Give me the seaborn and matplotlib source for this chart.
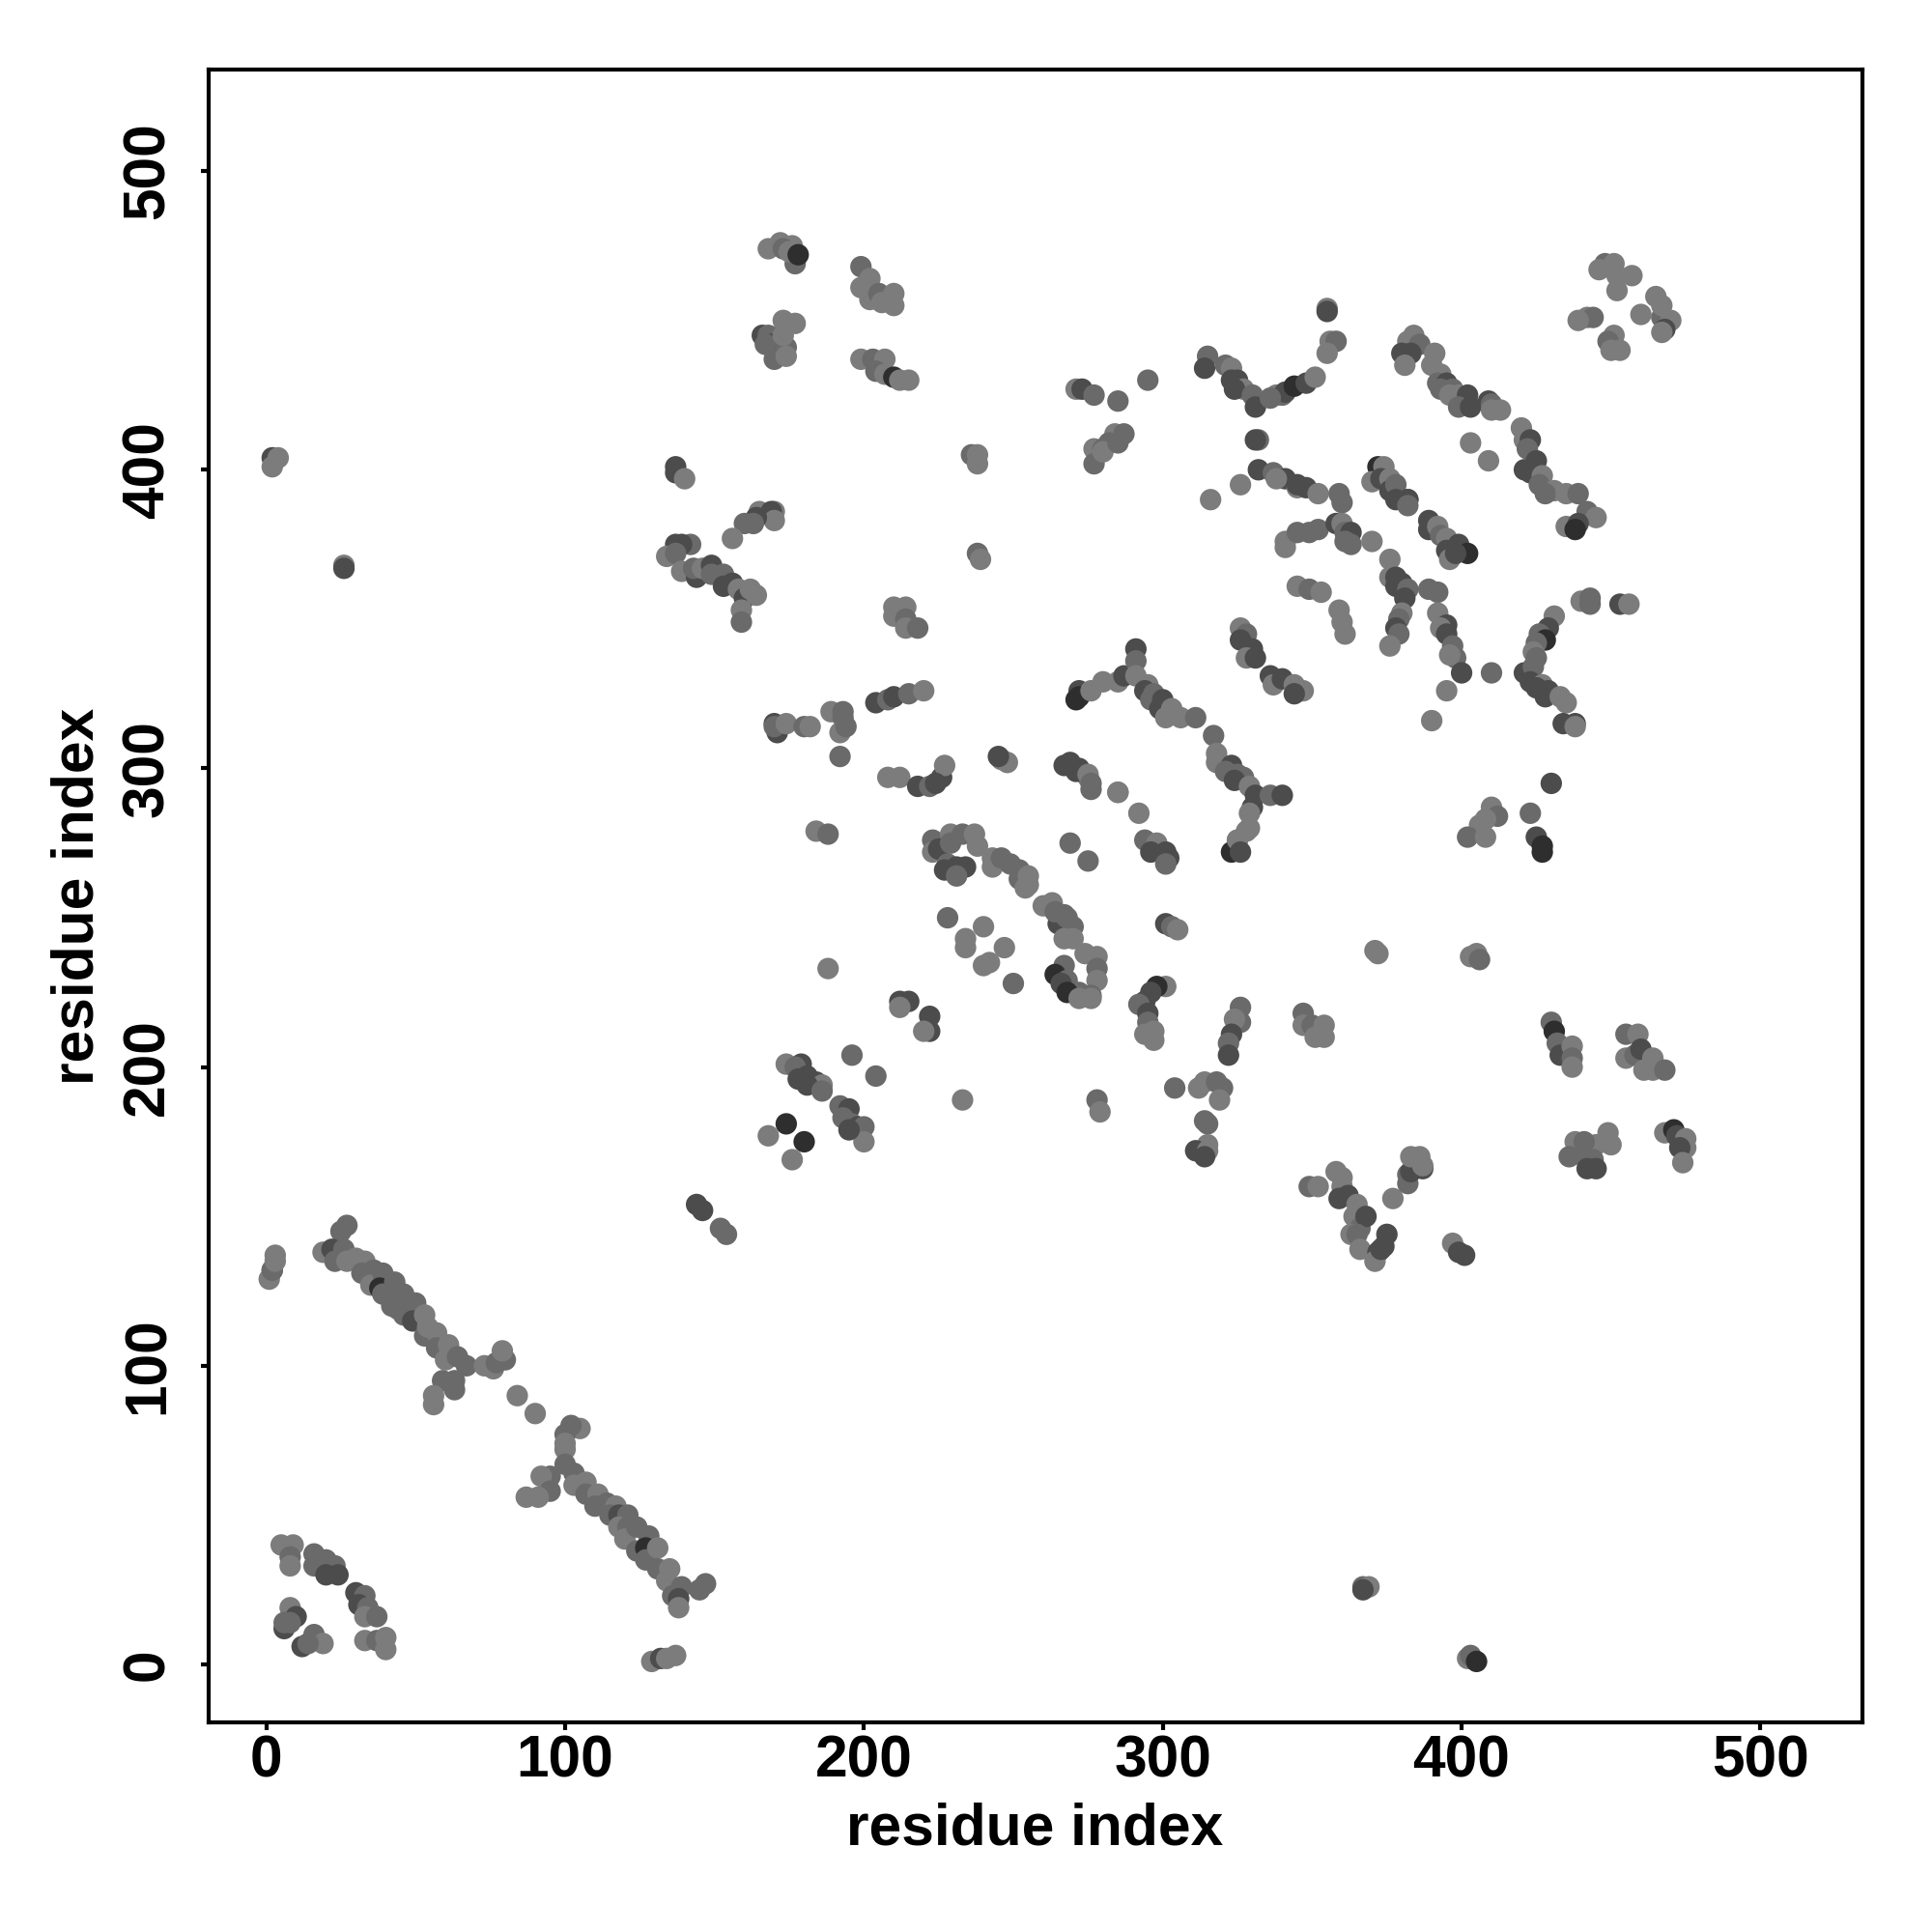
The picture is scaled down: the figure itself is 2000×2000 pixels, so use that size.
#!/usr/bin/env python3
# contact map, residue index vs residue index
import pandas as pd
import seaborn as sns
import matplotlib
matplotlib.use('Agg')
import matplotlib.pyplot as plt

# level = darkness of the contact, 1 (light) to 4 (very dark)
LEVELS = [1, 2, 3, 4]
GREYS = ['#7c7c7c', '#6a6a6a', '#4c4c4c', '#2e2e2e']
TICKS = [0, 100, 200, 300, 400, 500]
AXIS_LABEL = 'residue index'

# lower left, first long helix pair and its branches
x_helix1 = [2, 1, 2, 3, 3, 25, 27, 19, 22, 23, 26, 27, 30, 33, 32, 36, 35, 39, 38, 39, 43, 42, 44, 46, 46, 50, 49, 53, 53, 54, 57, 57, 61, 60, 64, 67, 73, 76, 77, 80, 79, 63, 59, 63, 56, 56, 84, 90]
y_helix1 = [132, 129, 132, 135, 137, 145, 147, 138, 139, 135, 139, 135, 136, 135, 131, 132, 127, 131, 126, 124, 128, 120, 119, 124, 117, 121, 115, 117, 110, 113, 111, 106, 107, 102, 103, 100, 100, 99, 101, 102, 105, 95, 95, 92, 90, 87, 90, 84]
l_helix1 = [3, 1, 2, 1, 1, 2, 2, 1, 3, 2, 2, 1, 1, 1, 2, 2, 1, 2, 4, 2, 2, 2, 2, 2, 2, 2, 3, 1, 2, 1, 1, 2, 1, 1, 2, 2, 1, 1, 2, 2, 1, 2, 2, 2, 1, 1, 1, 1]

# second helix pair
x_helix2 = [105, 102, 100, 100, 100, 100, 103, 95, 92, 95, 91, 87, 103, 107, 107, 111, 110, 114, 117, 115, 118, 121, 118, 121, 120, 124, 128, 124, 127, 127, 131, 131, 135, 134, 136, 139, 138, 138, 145, 147, 129, 132, 134, 137]
y_helix2 = [79, 80, 77, 74, 72, 67, 64, 63, 63, 58, 56, 56, 60, 61, 57, 57, 53, 54, 53, 50, 50, 50, 46, 46, 42, 46, 43, 38, 39, 35, 39, 32, 32, 28, 23, 26, 22, 19, 25, 27, 1, 2, 2, 3]
l_helix2 = [1, 2, 2, 1, 1, 2, 2, 2, 1, 2, 1, 1, 1, 1, 2, 1, 2, 2, 1, 2, 3, 2, 1, 2, 1, 2, 2, 2, 4, 2, 1, 2, 1, 1, 2, 2, 3, 1, 2, 2, 1, 3, 1, 1]

# small groups near the origin
x_corner = [5, 9, 8, 8, 16, 16, 20, 23, 20, 24, 30, 33, 31, 34, 33, 37, 8, 10, 6, 6, 8, 12, 16, 19, 14, 33, 37, 40, 40]
y_corner = [40, 40, 36, 33, 37, 33, 35, 33, 30, 30, 24, 23, 20, 19, 16, 16, 19, 16, 12, 14, 14, 6, 10, 7, 7, 8, 8, 9, 5]
l_corner = [1, 1, 2, 1, 2, 2, 2, 2, 3, 3, 3, 2, 3, 2, 1, 2, 1, 3, 3, 2, 2, 3, 2, 1, 2, 1, 2, 1, 1]

# isolated contacts along the edges
x_edge = [144, 146, 152, 154, 2, 2, 4, 26, 26, 367, 369, 367, 402, 403, 405]
y_edge = [154, 152, 146, 144, 404, 401, 404, 368, 367, 26, 26, 25, 2, 3, 1]
l_edge = [3, 3, 2, 2, 3, 1, 1, 1, 3, 2, 1, 3, 1, 2, 4]

# top left groups
x_top = [168, 172, 176, 173, 177, 175, 178, 199, 202, 199, 202, 205, 206, 210, 210, 173, 177, 166, 168, 169, 167, 174, 173, 170, 174, 199, 203, 207, 204, 207, 210, 215, 212]
y_top = [474, 476, 475, 474, 469, 473, 472, 468, 464, 461, 457, 459, 456, 459, 455, 450, 449, 445, 445, 442, 442, 441, 445, 437, 438, 437, 437, 437, 433, 432, 431, 430, 430]
l_top = [1, 1, 1, 2, 2, 1, 4, 2, 1, 1, 1, 2, 1, 1, 1, 1, 1, 3, 2, 3, 2, 2, 1, 2, 1, 1, 2, 1, 2, 1, 4, 1, 1]

# left middle, around residue 150 / 370
x_left = [137, 137, 140, 165, 170, 169, 170, 164, 160, 163, 156, 137, 142, 139, 134, 137, 139, 144, 143, 146, 149, 149, 153, 153, 156, 158, 160, 162, 164, 159, 159, 210, 214, 210, 214, 214, 218]
y_left = [401, 399, 397, 386, 386, 386, 383, 384, 382, 382, 377, 375, 375, 375, 371, 372, 366, 364, 367, 367, 368, 365, 365, 361, 362, 360, 357, 360, 358, 353, 349, 354, 354, 351, 350, 347, 347]
l_left = [3, 3, 1, 1, 1, 3, 1, 3, 2, 2, 1, 3, 2, 3, 1, 2, 1, 3, 2, 1, 3, 2, 2, 3, 3, 1, 3, 1, 1, 1, 2, 1, 1, 1, 2, 1, 2]

# top middle singles
x_mid = [271, 273, 277, 285, 295, 277, 280, 277, 284, 287, 282, 280, 285, 236, 238, 238, 238, 239]
y_mid = [427, 427, 425, 423, 430, 407, 407, 402, 412, 412, 409, 406, 409, 405, 405, 402, 372, 370]
l_mid = [1, 3, 2, 2, 2, 1, 2, 2, 1, 2, 2, 1, 2, 2, 1, 1, 2, 1]

# band around y = 300 to 330
x_band = [170, 171, 170, 174, 180, 182, 189, 193, 193, 192, 194, 192, 204, 208, 210, 215, 220, 208, 212, 218, 222, 226, 227, 224, 246, 248, 245, 269, 272, 267, 275, 276, 285]
y_band = [315, 312, 314, 315, 314, 314, 319, 319, 317, 312, 314, 304, 322, 323, 324, 325, 326, 297, 297, 294, 294, 297, 301, 295, 303, 302, 304, 301, 300, 301, 297, 293, 292]
l_band = [3, 3, 2, 1, 2, 1, 1, 2, 2, 1, 2, 2, 3, 2, 3, 2, 1, 1, 1, 3, 2, 3, 1, 3, 1, 1, 3, 3, 3, 3, 1, 2, 1]

# helices in the centre, residue 270 to 340
x_centre = [272, 271, 272, 276, 280, 285, 287, 291, 291, 291, 295, 294, 297, 296, 300, 299, 303, 301, 306, 311, 317, 318, 318, 323, 321, 325, 327, 324, 329, 331, 330, 329, 336, 340, 329, 325, 323, 325, 326, 328, 269, 271, 275, 276, 285, 292]
y_centre = [326, 323, 324, 326, 329, 329, 331, 340, 336, 331, 328, 326, 325, 323, 323, 320, 320, 317, 317, 317, 311, 305, 302, 301, 299, 298, 297, 296, 294, 291, 287, 285, 291, 291, 280, 276, 272, 276, 272, 279, 302, 299, 298, 295, 292, 285]
l_centre = [3, 4, 4, 1, 1, 1, 3, 3, 2, 1, 1, 3, 2, 2, 3, 3, 1, 1, 1, 2, 2, 1, 1, 3, 2, 2, 2, 3, 1, 3, 3, 1, 2, 3, 1, 1, 4, 1, 3, 1, 3, 3, 1, 2, 1, 1]

# upper right, residue 310 to 410 along y = 340 to 440
x_upper = [315, 314, 321, 323, 323, 325, 327, 324, 330, 331, 338, 340, 341, 344, 348, 351, 336, 355, 355, 356, 358, 355, 332, 331, 332, 337, 341, 345, 345, 348, 352, 338, 326, 316, 359, 360, 372, 374, 370, 373, 376, 376, 378, 378, 382, 382, 382, 389, 389, 392, 393, 395, 395, 399, 396, 402, 398]
y_upper = [438, 434, 435, 434, 430, 430, 427, 427, 425, 421, 425, 425, 426, 428, 429, 431, 424, 454, 453, 443, 443, 439, 410, 410, 400, 399, 397, 394, 395, 394, 392, 397, 395, 390, 392, 389, 401, 401, 396, 397, 397, 393, 395, 390, 390, 390, 388, 383, 380, 381, 378, 377, 373, 375, 370, 372, 372]
l_upper = [2, 3, 2, 1, 3, 3, 1, 3, 2, 3, 1, 2, 3, 4, 3, 1, 2, 1, 3, 1, 2, 1, 2, 3, 3, 2, 3, 1, 3, 3, 1, 1, 1, 1, 2, 2, 4, 1, 1, 3, 1, 3, 2, 3, 3, 3, 2, 3, 3, 1, 2, 1, 3, 3, 1, 4, 3]

# upper right, residue 325 to 400 along y = 325 to 380
x_lower = [341, 341, 345, 349, 352, 358, 360, 361, 363, 361, 363, 370, 376, 376, 378, 380, 378, 382, 381, 389, 392, 380, 379, 378, 379, 376, 392, 395, 393, 395, 397, 398, 396, 400, 410, 395, 390, 326, 328, 326, 330, 328, 331, 336, 337, 340, 344, 347, 344, 345, 349, 353, 359, 360, 361]
y_lower = [376, 374, 379, 379, 380, 382, 382, 379, 379, 376, 375, 376, 370, 364, 364, 362, 361, 360, 357, 360, 359, 352, 350, 347, 345, 341, 352, 348, 347, 345, 341, 337, 338, 332, 332, 326, 316, 347, 345, 343, 340, 337, 337, 331, 328, 330, 328, 326, 325, 361, 360, 359, 353, 349, 345]
l_lower = [1, 1, 2, 2, 2, 3, 1, 2, 3, 2, 2, 1, 1, 1, 3, 3, 3, 2, 3, 2, 2, 1, 2, 3, 2, 1, 1, 3, 1, 3, 2, 2, 1, 3, 2, 1, 1, 1, 2, 3, 3, 1, 3, 3, 1, 3, 1, 1, 3, 1, 2, 1, 1, 1, 1]

# far right top
x_right = [384, 382, 386, 380, 383, 381, 391, 390, 393, 392, 395, 393, 397, 396, 399, 402, 399, 403, 409, 410, 410, 413, 420, 421, 423, 422, 425, 421, 423, 427, 426, 431, 428, 435, 439, 442, 445, 435, 439, 438, 403, 409, 448, 446, 451, 452, 452, 457, 442, 444, 439, 451, 449, 450, 453, 460, 467, 470, 468, 467, 465, 467]
y_right = [445, 443, 442, 439, 439, 435, 439, 435, 432, 429, 429, 427, 427, 425, 425, 425, 421, 421, 423, 422, 420, 420, 414, 410, 410, 407, 403, 400, 399, 398, 395, 393, 392, 392, 392, 386, 384, 381, 382, 380, 409, 403, 469, 467, 469, 465, 460, 465, 451, 451, 450, 445, 443, 440, 440, 452, 451, 450, 447, 446, 458, 455]
l_right = [1, 1, 2, 3, 3, 1, 1, 1, 1, 2, 3, 2, 2, 1, 1, 3, 2, 3, 3, 2, 1, 1, 1, 1, 3, 2, 3, 3, 3, 1, 2, 1, 2, 1, 2, 2, 1, 1, 3, 4, 1, 1, 2, 1, 1, 1, 1, 1, 1, 2, 1, 1, 2, 1, 1, 1, 2, 1, 3, 1, 1, 1]

# right column of helices, y = 315 to 351 and below
x_rhel = [431, 429, 426, 428, 425, 424, 425, 421, 424, 423, 427, 425, 429, 428, 433, 435, 434, 438, 438, 440, 443, 443, 453, 456, 430, 410, 412, 408, 406, 402, 408, 423, 425, 427, 427]
y_rhel = [351, 347, 345, 343, 342, 339, 337, 332, 334, 329, 328, 327, 326, 324, 324, 322, 315, 315, 314, 356, 357, 355, 355, 355, 295, 287, 284, 283, 281, 277, 277, 285, 277, 274, 272]
l_rhel = [1, 3, 2, 4, 2, 1, 2, 3, 2, 3, 1, 3, 3, 3, 1, 1, 3, 3, 1, 1, 2, 2, 3, 1, 3, 1, 2, 1, 1, 2, 1, 2, 3, 4, 4]

# centre, y = 215 to 280
x_cen2 = [184, 188, 223, 223, 225, 229, 229, 233, 237, 238, 228, 231, 234, 227, 231, 243, 243, 246, 249, 252, 252, 255, 255, 254, 265, 260, 263, 264, 267, 268, 270, 267, 270, 269, 275, 294, 298, 296, 301, 302, 301, 301, 303, 305]
y_cen2 = [279, 278, 276, 272, 273, 278, 275, 278, 278, 274, 268, 267, 267, 266, 264, 267, 270, 270, 268, 266, 263, 264, 261, 260, 248, 254, 255, 252, 251, 250, 247, 243, 243, 275, 269, 276, 275, 272, 272, 270, 268, 248, 247, 246]
l_cen2 = [1, 2, 2, 1, 3, 1, 2, 2, 1, 1, 2, 3, 3, 3, 2, 1, 1, 2, 2, 2, 2, 1, 1, 1, 3, 1, 1, 2, 2, 2, 2, 1, 1, 2, 2, 2, 1, 3, 3, 3, 2, 3, 2, 1]

# centre, y = 205 to 240
x_cen3 = [274, 278, 278, 278, 276, 267, 264, 268, 266, 272, 268, 272, 276, 228, 240, 234, 234, 247, 242, 240, 250, 188, 212, 215, 212, 222, 222, 220, 301, 298, 296, 294, 292, 295, 295, 297, 297, 294, 326, 326, 324, 323, 322, 322]
y_cen3 = [238, 237, 233, 229, 224, 234, 231, 229, 228, 225, 225, 223, 223, 250, 247, 243, 240, 240, 235, 234, 228, 233, 222, 222, 220, 217, 212, 212, 227, 227, 225, 222, 221, 218, 215, 212, 209, 211, 220, 215, 216, 211, 208, 204]
l_cen3 = [1, 1, 2, 1, 2, 2, 4, 2, 3, 2, 4, 1, 1, 2, 1, 1, 1, 1, 1, 1, 2, 1, 3, 3, 1, 3, 3, 1, 1, 4, 3, 3, 2, 3, 2, 1, 1, 1, 2, 2, 1, 3, 2, 3]

# lower middle, y = 170 to 205
x_low = [304, 312, 314, 318, 320, 319, 314, 315, 315, 311, 315, 314, 278, 279, 233, 174, 179, 177, 181, 178, 184, 186, 181, 186, 196, 204, 192, 195, 193, 196, 198, 200, 200, 195, 168, 174, 180, 176]
y_low = [193, 193, 195, 195, 193, 189, 182, 181, 174, 172, 172, 170, 189, 185, 189, 201, 201, 200, 197, 196, 195, 194, 194, 192, 204, 197, 187, 186, 183, 181, 180, 180, 175, 179, 177, 181, 175, 169]
l_low = [2, 1, 1, 2, 2, 1, 2, 2, 1, 3, 1, 3, 2, 1, 1, 1, 3, 2, 3, 3, 3, 1, 3, 2, 2, 2, 2, 3, 2, 2, 3, 2, 1, 3, 1, 4, 4, 1]

# right side, y = 200 to 240
x_rmid = [371, 372, 403, 405, 406, 347, 347, 350, 354, 351, 354, 430, 431, 432, 433, 437, 437, 437, 455, 459, 455, 458, 460, 464, 461, 464, 468]
y_rmid = [239, 238, 237, 238, 236, 218, 214, 214, 214, 210, 210, 215, 212, 208, 204, 207, 203, 200, 211, 211, 203, 204, 206, 203, 199, 199, 199]
l_rmid = [1, 1, 1, 1, 2, 2, 1, 2, 1, 1, 1, 2, 4, 2, 3, 1, 2, 1, 2, 1, 1, 2, 3, 1, 1, 1, 2]

# lower right, y = 135 to 180
x_lowr = [449, 450, 445, 438, 441, 436, 441, 444, 442, 445, 468, 471, 472, 475, 475, 473, 474, 358, 360, 360, 349, 352, 359, 362, 365, 364, 366, 368, 363, 365, 366, 375, 374, 372, 371, 373, 377, 382, 382, 383, 383, 386, 387, 387, 397, 399, 401]
y_lowr = [178, 174, 174, 175, 175, 170, 170, 169, 166, 166, 178, 179, 177, 176, 173, 173, 168, 165, 163, 160, 160, 160, 156, 157, 154, 150, 146, 150, 144, 144, 139, 144, 140, 138, 135, 139, 156, 161, 164, 165, 170, 170, 166, 167, 141, 138, 137]
l_lowr = [1, 1, 1, 1, 2, 2, 2, 2, 3, 3, 1, 4, 3, 1, 1, 3, 1, 1, 1, 1, 2, 1, 3, 3, 1, 1, 2, 3, 1, 2, 1, 3, 3, 3, 1, 3, 1, 2, 2, 3, 1, 1, 3, 1, 1, 3, 3]

region_x = [x_helix1, x_helix2, x_corner, x_edge, x_top, x_left, x_mid, x_band, x_centre,
            x_upper, x_lower, x_right, x_rhel, x_cen2, x_cen3, x_low, x_rmid, x_lowr]
region_y = [y_helix1, y_helix2, y_corner, y_edge, y_top, y_left, y_mid, y_band, y_centre,
            y_upper, y_lower, y_right, y_rhel, y_cen2, y_cen3, y_low, y_rmid, y_lowr]
region_l = [l_helix1, l_helix2, l_corner, l_edge, l_top, l_left, l_mid, l_band, l_centre,
            l_upper, l_lower, l_right, l_rhel, l_cen2, l_cen3, l_low, l_rmid, l_lowr]

frames = []
for i in range(len(region_x)):
    frames.append(pd.DataFrame({'x': region_x[i], 'y': region_y[i], 'level': region_l[i]}))
contacts = pd.concat(frames, ignore_index=True)

sns.set_style('white')
plt.rcParams['font.family'] = ['Liberation Sans', 'DejaVu Sans']
plt.rcParams['font.weight'] = 'bold'
plt.rcParams['text.color'] = 'black'
plt.rcParams['axes.labelcolor'] = 'black'
plt.rcParams['xtick.labelcolor'] = 'black'
plt.rcParams['ytick.labelcolor'] = 'black'

fig, ax = plt.subplots(figsize=(10, 10), dpi=200)
fig.subplots_adjust(left=0.1078, right=0.9638, bottom=0.1085, top=0.9640)

sns.scatterplot(data=contacts, x='x', y='y', hue='level', palette=dict(zip(LEVELS, GREYS)),
                s=64, linewidth=0, legend=False, ax=ax)

ax.set_xlim(-19.4, 534)
ax.set_ylim(-19.4, 534)
ax.set_xticks(TICKS)
ax.set_yticks(TICKS)
ax.tick_params(axis='both', direction='out', length=3, width=1.5, color='black', labelsize=21.8, left=True, bottom=True)
ax.tick_params(axis='x', pad=1.5)
ax.tick_params(axis='y', labelrotation=90, pad=9)
for lab in ax.get_yticklabels():
    lab.set_va('center')
for side in ax.spines.values():
    side.set_visible(True)
    side.set_color('black')
    side.set_linewidth(1.5)

ax.set_xlabel(AXIS_LABEL, fontsize=21.8, fontweight='bold', labelpad=4.7)
ax.set_ylabel(AXIS_LABEL, fontsize=21.8, fontweight='bold', labelpad=5.5)

fig.savefig('out.png', dpi=200)
